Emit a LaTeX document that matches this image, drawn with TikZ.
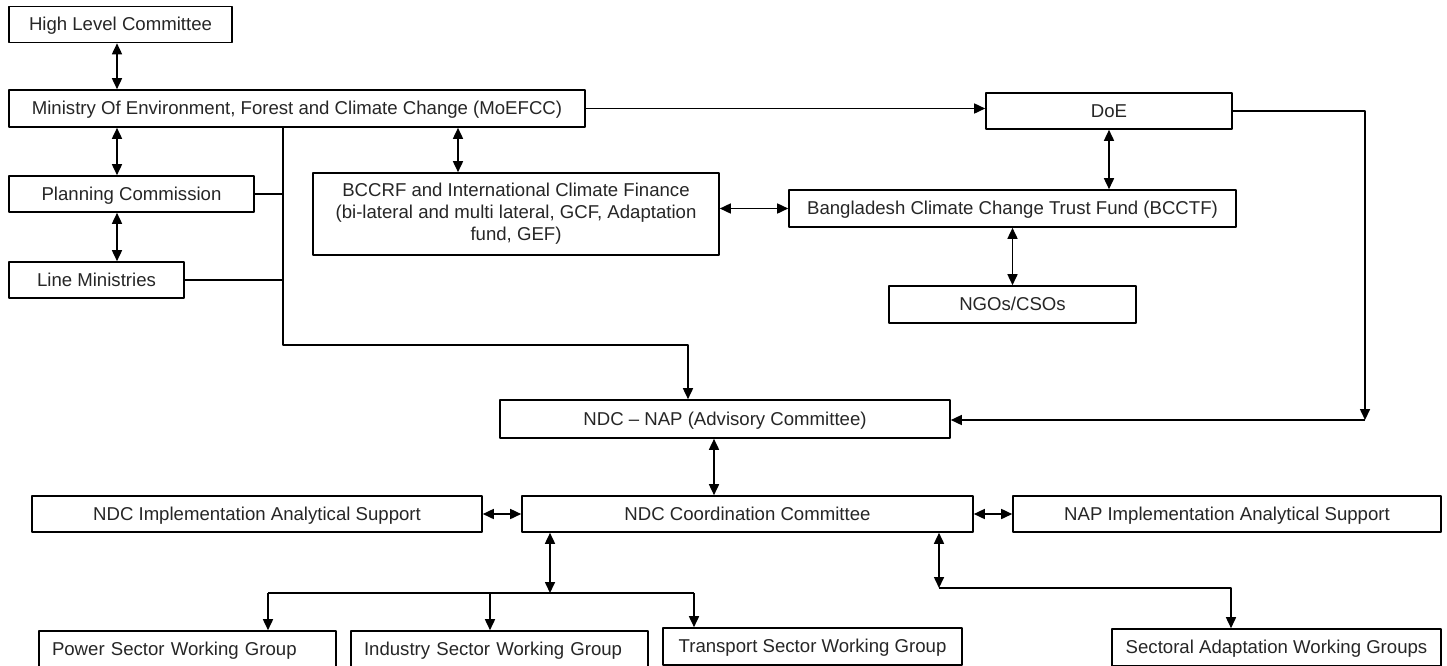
\documentclass[tikz,border=0pt]{standalone}
\usepackage{fontspec}
\setmainfont{Liberation Sans}
\usetikzlibrary{arrows.meta}

\tikzset{
    frame/.style={draw, line width=1.6pt, inner sep=0pt, minimum height=36,
        text=black!85, font=\fontsize{18.6}{22}\selectfont},
    box/.style={frame, text height=14, text depth=2},
    wg/.style={box, align=left, inner xsep=13, text width=271},
}

\begin{document}
\begin{tikzpicture}[x=1pt, y=-1pt, line width=1.6pt, line join=round,
    >={Triangle[length=11pt,width=10pt]}]
    \clip (0,0) rectangle (1447,665);
    \fill[white] (0,0) rectangle (1447,665);

    \node[box, minimum width=223] (hlc) at (120.5,24.5) {High Level Committee};
    \node[box, minimum width=576, minimum height=37] (moe) at (297,108.5)
        {Ministry Of Environment, Forest and Climate Change (MoEFCC)};
    \node[box, minimum width=245] (pc) at (131.5,194) {Planning Commission};
    \node[box, minimum width=175] (lm) at (96.5,280) {Line Ministries};
    \node[frame, minimum width=406, minimum height=82, align=center] (bccrf) at (516,214)
        {BCCRF and International Climate Finance\\(bi-lateral and multi lateral, GCF, Adaptation\\fund, GEF)};
    \node[box, minimum width=246] (doe) at (1109,111) {DoE};
    \node[box, minimum width=447, minimum height=37] (bcctf) at (1012.5,208.5)
        {Bangladesh Climate Change Trust Fund (BCCTF)};
    \node[box, minimum width=247, minimum height=37] (ngo) at (1012.5,304.5) {NGOs/CSOs};
    \node[box, minimum width=450, minimum height=38] (nap) at (725,419)
        {NDC -- NAP (Advisory Committee)};
    \node[box, minimum width=451] (coord) at (747.5,514) {NDC Coordination Committee};
    \node[box, minimum width=450] (ndcimpl) at (257,514) {NDC Implementation Analytical Support};
    \node[box, minimum width=428] (napimpl) at (1227,514) {NAP Implementation Analytical Support};
    \node[wg, minimum height=37] (power) at (187.5,649.5) {Power Sector Working Group};
    \node[wg, minimum height=37] (industry) at (499.5,649.5) {Industry Sector Working Group};
    \node[box, minimum width=299, minimum height=37] (transport) at (812.5,646.5)
        {Transport Sector Working Group};
    \node[box, minimum width=329, minimum height=37] (sectoral) at (1276.5,647.5)
        {Sectoral Adaptation Working Groups};

    % left column
    \coordinate (lx) at (117,0);
    \draw[<->] (hlc.south -| lx) -- (moe.north -| lx);
    \draw[<->] (moe.south -| lx) -- (pc.north -| lx);
    \draw[<->] (pc.south -| lx) -- (lm.north -| lx);

    \coordinate (bus) at (283,345);
    \coordinate (drop) at (688,345);
    \draw (pc.east) -- (pc.east -| bus);
    \draw (lm.east) -- (lm.east -| bus);
    \draw[->] (moe.south -| bus) -- (bus) -- (drop) -- (drop |- nap.north);

    % finance side
    \coordinate (fx) at (458,0);
    \draw[<->] (moe.south -| fx) -- (bccrf.north -| fx);
    \draw[->] (moe.east) -- (moe.east -| doe.west);
    \draw[<->] (bccrf.east |- bcctf.west) -- (bcctf.west);
    \draw[<->] (doe.south) -- (bcctf.north -| doe.south);
    \draw[<->] (bcctf.south) -- (ngo.north);

    \coordinate (rc) at (1365,420);
    \draw[->] (doe.east) -| (rc);
    \draw[->] (rc) -- (nap.east |- rc);

    % coordination
    \coordinate (ax) at (714,0);
    \draw[<->] (nap.south -| ax) -- (coord.north -| ax);
    \draw[<->] (ndcimpl.east) -- (coord.west);
    \draw[<->] (coord.east) -- (napimpl.west);

    \coordinate (mit) at (550,593);
    \coordinate (t1) at (268,593);
    \coordinate (t2) at (490,593);
    \coordinate (t3) at (694,593);
    \draw[<->] (coord.south -| mit) -- (mit);
    \draw (t1) -- (t3);
    \foreach \t/\b in {t1/power, t2/industry, t3/transport}
        \draw[->] (\t) -- (\b.north -| \t);

    \coordinate (ad) at (939,588);
    \coordinate (ad2) at (1231,588);
    \draw[<->] (coord.south -| ad) -- (ad);
    \draw[->] (ad) -- (ad2) -- (sectoral.north -| ad2);
\end{tikzpicture}
\end{document}
